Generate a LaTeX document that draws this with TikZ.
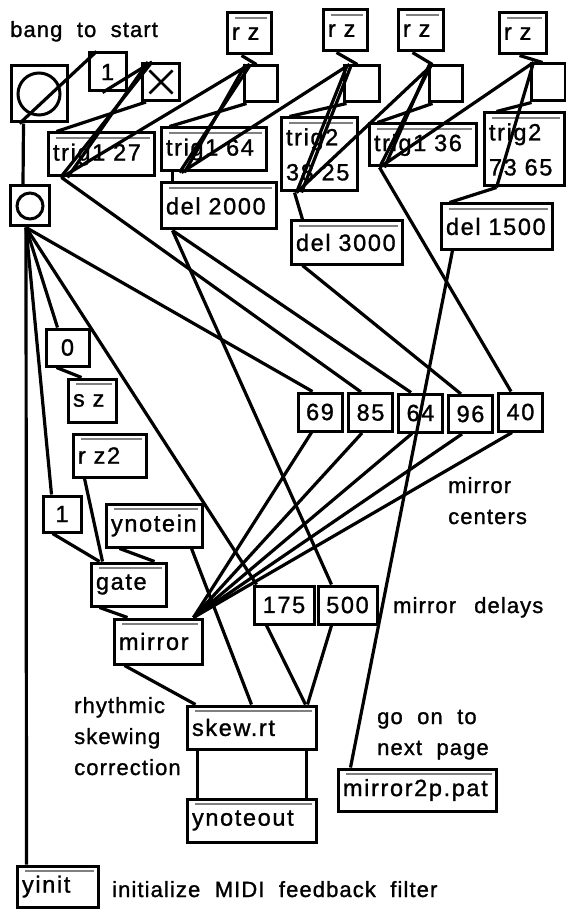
\documentclass[tikz,border=0pt]{standalone}
\usepackage{fontspec}
\setmainfont{Liberation Sans}[WordSpace=2,LetterSpace=3,FakeBold=1.2]
\usetikzlibrary{calc}

\newcommand\boxfont{\fontsize{23.5}{35}\selectfont\addfontfeatures{LetterSpace=7}}
\newcommand\notefont{\fontsize{22}{31}\selectfont\addfontfeatures{LetterSpace=5}}

\tikzset{
  obj/.style={draw, line width=3pt, fill=white, inner xsep=5pt, inner ysep=0pt, align=left, font=\boxfont,
    path picture={
      \fill ([yshift=-2pt]path picture bounding box.north west) rectangle (path picture bounding box.north east);
      \draw [gray, line width=1.2pt] ([xshift=8pt,yshift=-5pt]path picture bounding box.north west) -- ([xshift=-4pt,yshift=-5pt]path picture bounding box.north east);
      \fill (path picture bounding box.south west) rectangle ([yshift=7pt]path picture bounding box.south east);
      \draw [white, line width=0.9pt] ([xshift=8pt,yshift=3.5pt]path picture bounding box.south west) -- ([xshift=-4pt,yshift=3.5pt]path picture bounding box.south east);
    }},
  num/.style={draw, line width=3pt, fill=white, inner sep=0pt, font=\boxfont},
  msg/.style={draw, line width=3pt, fill=white, inner sep=0pt, font=\boxfont},
  bangbox/.style={draw, line width=3pt, fill=white,
    path picture={\draw [line width=3pt] (path picture bounding box.center) circle [radius=#1];}},
  togglebox/.style={draw, line width=3pt, fill=white,
    path picture={
      \draw [line width=2.5pt] ([shift={(7pt,-7pt)}]path picture bounding box.north west) -- ([shift={(-7pt,7pt)}]path picture bounding box.south east);
      \draw [line width=2.5pt] ([shift={(7pt,7pt)}]path picture bounding box.south west) -- ([shift={(-7pt,-7pt)}]path picture bounding box.north east);
    }},
  cord/.style={line width=3.2pt},
  note/.style={anchor=base west, align=left, inner sep=0pt, font=\notefont},
}

\begin{document}
\begin{tikzpicture}[x=1pt,y=-1pt]
\useasboundingbox [fill=white] (0,0) rectangle (565,909);

\node (lblstart) at (10,37) [note]{bang to start};
\node (lblcenters) at (448,524) [note]{mirror\\centers};
\node (lbldelays) at (393,613) [note]{mirror \,delays};
\node (lblskew) at (74,775) [note]{rhythmic\\skewing\\correction};
\node (lblnext) at (377,755) [note]{go on to\\next page};
\node (lblinit) at (112,897) [note]{initialize MIDI feedback filter};

\node (bigbang) at (39,94) [bangbox=21pt, minimum size=56]{};
\node (one) at (107.5,72) [msg, minimum width=37, minimum height=38]{1};
\node (toggle) at (161,82) [togglebox, minimum size=37]{};

\node (rz1) at (249,33.5) [obj, text width=34, minimum height=41]{r z};
\node (nb1) at (260.5,84) [num, minimum width=33, minimum height=36]{};
\node (rz2) at (345,30.5) [obj, text width=34, minimum height=41]{r z};
\node (nb2) at (361.5,84) [num, minimum width=35, minimum height=36]{};
\node (rz3) at (420.5,30.5) [obj, text width=35, minimum height=41]{r z};
\node (nb3) at (445.5,84) [num, minimum width=33, minimum height=36]{};
\node (rz4) at (522.5,33.5) [obj, text width=37, minimum height=41]{r z};
\node (nb4) at (548,82.5) [num, minimum width=34, minimum height=37]{};

\node (trig27) at (101,154.5) [obj, text width=96, minimum height=43]{trig1 27};
\node (trig64) at (213.5,149.5) [obj, text width=95, minimum height=43]{trig1 64};
\node (trig3825) at (319,154.5) [obj, text width=66, minimum height=73]{trig2\\38 25};
\node (trig36) at (422.5,145) [obj, text width=97, minimum height=42]{trig1 36};
\node (trig7365) at (524,149.5) [obj, text width=70, minimum height=73]{trig2\\73 65};

\node (del2000) at (218.5,206) [obj, text width=105, minimum height=46]{del 2000};
\node (del3000) at (346.5,242.5) [obj, text width=101, minimum height=43]{del 3000};
\node (del1500) at (496.5,226.5) [obj, text width=101, minimum height=45]{del 1500};

\node (smallbang) at (30,206) [bangbox=13pt, minimum width=39, minimum height=40]{};
\node (zero) at (67.5,347.5) [msg, minimum width=43, minimum height=37]{0};
\node (sz) at (92,400.5) [obj, text width=38, minimum height=43]{s z};
\node (rztwo) at (109.5,455.5) [obj, text width=63, minimum height=43]{r z2};

\node (n69) at (320,412) [num, minimum width=44, minimum height=38]{69};
\node (n85) at (370.5,412.5) [num, minimum width=44, minimum height=38]{85};
\node (n64) at (420.5,413) [num, minimum width=44, minimum height=38]{64};
\node (n96) at (470.5,414) [num, minimum width=44, minimum height=37]{96};
\node (n40) at (520.5,412) [num, minimum width=44, minimum height=38]{40};

\node (onelow) at (62,514) [msg, minimum width=38, minimum height=36]{1};
\node (ynotein) at (154,525.5) [obj, text width=86, minimum height=43]{ynotein};
\node (gate) at (128.5,584.5) [obj, text width=65, minimum height=43]{gate};
\node (mirror) at (158,641.5) [obj, text width=78, minimum height=45]{mirror};
\node (n175) at (284,605) [num, minimum width=60, minimum height=38]{175};
\node (n500) at (347.5,605) [num, minimum width=59, minimum height=38]{500};

\node (skew) at (251.5,727.5) [obj, text width=119, minimum height=43]{skew.rt};
\node (ynoteout) at (251.5,820.5) [obj, text width=119, minimum height=43]{ynoteout};
\node (mirror2p) at (417,790) [obj, text width=148, minimum height=42]{mirror2p.pat};
\node (yinit) at (57.5,886.5) [obj, text width=71, minimum height=41]{yinit};

% start chain
\draw [cord] ([xshift=10pt]bigbang.south west) -- ([xshift=9pt]one.north west);
\draw [cord] ([xshift=14pt]bigbang.south west) -- ([xshift=14pt]smallbang.north west);
\draw [cord] ([xshift=15pt]one.south west) -- ([xshift=11pt]toggle.north west);
\draw [cord] ([xshift=5pt]toggle.south west) -- ([xshift=10pt]trig27.north west);
\draw [cord] ([xshift=14pt]trig27.south west) -- ([xshift=11pt]toggle.north west);
\draw [cord] ([xshift=21pt]trig27.south west) -- ([xshift=7pt]toggle.north west);
\draw [cord] ([xshift=15pt]trig27.south west) -- ([xshift=7pt]nb1.north west);

\draw [cord] ([xshift=16pt]rz1.south west) -- ([xshift=14pt]nb1.north west);
\draw [cord] ([xshift=4pt]nb1.south west) -- ([xshift=10pt]trig64.north west);
\draw [cord] ([xshift=20pt]trig64.south west) -- ([xshift=8pt]nb1.north west);
\draw [cord] ([xshift=25pt]trig64.south west) -- ([xshift=3pt]nb1.north west);
\draw [cord] ([xshift=22pt]trig64.south west) -- ([xshift=7pt]nb2.north west);
\draw [cord] ([xshift=13pt]trig64.south west) -- ([xshift=13pt]del2000.north west);

\draw [cord] ([xshift=15pt]rz2.south west) -- ([xshift=15pt]nb2.north west);
\draw [cord] ([xshift=4pt]nb2.south west) -- ([xshift=10pt]trig3825.north west);
\draw [cord] ([xshift=17pt]trig3825.south west) -- ([xshift=5pt]nb2.north west);
\draw [cord] ([xshift=22pt]trig3825.south west) -- ([xshift=9pt]nb2.north west);
\draw [cord] ([xshift=17pt]trig3825.south west) -- ([xshift=5pt]nb3.north west);
\draw [cord] ([xshift=15pt]trig3825.south west) -- ([xshift=13pt]del3000.north west);

\draw [cord] ([xshift=16pt]rz3.south west) -- ([xshift=5pt]nb3.north west);
\draw [cord] ([xshift=5pt]nb3.south west) -- ([xshift=10pt]trig36.north west);
\draw [cord] ([xshift=12pt]trig36.south west) -- ([xshift=4pt]nb3.north west);
\draw [cord] ([xshift=17pt]trig36.south west) -- ([xshift=2pt]nb3.north west);
\draw [cord] ([xshift=12pt]trig36.south west) -- ([xshift=4pt]nb4.north west);
\draw [cord] ([xshift=12pt]trig36.south west) -- ([xshift=14pt]n40.north west);

\draw [cord] ([xshift=22pt]rz4.south west) -- ([xshift=13pt]nb4.north west);
\draw [cord] ([xshift=2pt]nb4.south west) -- ([xshift=14pt]trig7365.north west);
\draw [cord] ([xshift=14pt]trig7365.south west) -- ([xshift=4pt]nb4.north west);
\draw [cord] ([xshift=14pt]trig7365.south west) -- ([xshift=10pt]del1500.north west);

% mirror centers
\draw [cord] ([xshift=13pt]del2000.south west) -- ([xshift=14pt]n64.north west);
\draw [cord] ([xshift=13pt]del2000.south west) -- ([xshift=15pt]n500.north west);
\draw [cord] ([xshift=13pt]del3000.south west) -- ([xshift=14pt]n96.north west);
\draw [cord] ([xshift=13pt]del1500.south west) -- ([xshift=14pt]mirror2p.north west);
\draw [cord] ([xshift=15pt]trig27.south west) -- ([xshift=14pt]n85.north west);

\draw [cord] ([xshift=17pt]smallbang.south west) -- ([xshift=11pt]yinit.north west);
\draw [cord] ([xshift=17pt]smallbang.south west) -- ([xshift=10pt]onelow.north west);
\draw [cord] ([xshift=17pt]smallbang.south west) -- ([xshift=13pt]zero.north west);
\draw [cord] ([xshift=17pt]smallbang.south west) -- ([xshift=4pt]n175.north west);
\draw [cord] ([xshift=17pt]smallbang.south west) -- ([xshift=16pt]n69.north west);
\draw [cord] ([xshift=12pt]zero.south west) -- ([xshift=15pt]sz.north west);

\draw [cord] ([xshift=11pt]onelow.south west) -- ([xshift=10pt]gate.north west);
\draw [cord] ([xshift=13pt]rztwo.south west) -- ([xshift=13pt]gate.north west);
\draw [cord] ([xshift=15pt]ynotein.south west) -- ([xshift=65pt]gate.north west);
\draw [cord] ([xshift=87pt]ynotein.south west) -- ([xshift=66pt]skew.north west);
\draw [cord] ([xshift=10pt]gate.south west) -- ([xshift=15pt]mirror.north west);

\draw [cord] ([xshift=15pt]n69.south west) -- ([xshift=-10pt]mirror.north east);
\draw [cord] ([xshift=15pt]n85.south west) -- ([xshift=-10pt]mirror.north east);
\draw [cord] ([xshift=15pt]n64.south west) -- ([xshift=-10pt]mirror.north east);
\draw [cord] ([xshift=15pt]n96.south west) -- ([xshift=-10pt]mirror.north east);
\draw [cord] ([xshift=15pt]n40.south west) -- ([xshift=-10pt]mirror.north east);

% delays and output
\draw [cord] ([xshift=12pt]mirror.south west) -- ([xshift=10pt]skew.north west);
\draw [cord] ([xshift=14pt]n175.south west) -- ([xshift=-12pt]skew.north east);
\draw [cord] ([xshift=15pt]n500.south west) -- ([xshift=-10pt]skew.north east);
\draw [cord] ([xshift=12pt]skew.south west) -- ([xshift=12pt]ynoteout.north west);
\draw [cord] ([xshift=-11pt]skew.south east) -- ([xshift=-11pt]ynoteout.north east);

\end{tikzpicture}
\end{document}
